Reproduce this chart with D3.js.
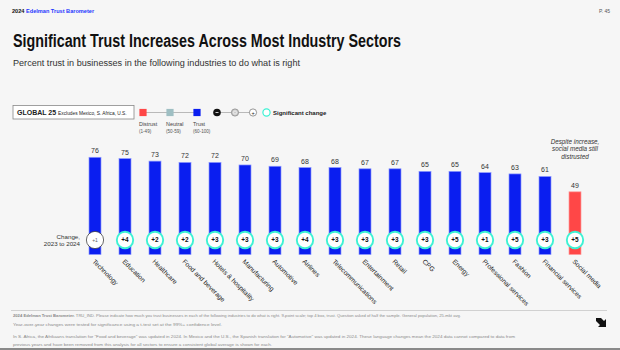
<!DOCTYPE html>
<html>
<head>
<meta charset="utf-8">
<script src="https://cdn.jsdelivr.net/npm/d3@7"></script>
<style>
  html, body { margin: 0; padding: 0; background: #f6f6f6; }
  svg { display: block; font-family: "Liberation Sans", Arial, sans-serif; }
</style>
</head>
<body>
<div id="vis"></div>
<script>
const width = 620
const height = 350

// data
const sectors = ["Technology", "Education", "Healthcare", "Food and beverage", "Hotels & hospitality",
  "Manufacturing", "Automotive", "Airlines", "Telecommunications", "Entertainment", "Retail", "CPG",
  "Energy", "Professional services", "Fashion", "Financial services", "Social media"]
const trust2024 = [76, 75, 73, 72, 72, 70, 69, 68, 68, 67, 67, 65, 65, 64, 63, 61, 49]
const change = [1, 4, 2, 2, 3, 3, 3, 4, 3, 3, 3, 3, 5, 1, 5, 3, 5]
const significant = [false, true, true, true, true, true, true, true, true, true, true, true, true, true, true, true, true]

const blue = "#0a1ef0"
const red = "#ff4747"
const teal = "#9fbfc3"
const cyan = "#3df2d4"

var data = sectors.map((s, i) => ({ sector: s, value: trust2024[i], change: change[i], sig: significant[i] }))

var svg = d3.select("#vis")
  .append("svg")
  .attr("width", width)
  .attr("height", height)

svg.append("rect").attr("width", width).attr("height", height).attr("fill", "#f6f6f6")

// header
var hdr = svg.append("text").attr("x", 12).attr("y", 13).attr("font-size", 5.6).attr("font-weight", "bold")
hdr.append("tspan").attr("fill", "#111").text("2024 ")
hdr.append("tspan").attr("fill", "#1f36ff").text("Edelman Trust Barometer")
svg.append("text").attr("x", 610).attr("y", 13).attr("text-anchor", "end")
  .attr("font-size", 5).attr("fill", "#555").text("P. 45")

svg.append("text").attr("x", 13).attr("y", 46.5)
  .attr("font-size", 17.5).attr("font-weight", "bold").attr("fill", "#111")
  .attr("textLength", 388).attr("lengthAdjust", "spacingAndGlyphs")
  .text("Significant Trust Increases Across Most Industry Sectors")

svg.append("text").attr("x", 13).attr("y", 66)
  .attr("font-size", 9.6).attr("fill", "#333")
  .attr("textLength", 287).attr("lengthAdjust", "spacingAndGlyphs")
  .text("Percent trust in businesses in the following industries to do what is right")

// legend
svg.append("rect").attr("x", 13).attr("y", 105.5).attr("width", 121).attr("height", 13.5)
  .attr("fill", "#fff").attr("stroke", "#888").attr("stroke-width", 0.8)
var g25 = svg.append("text").attr("x", 17).attr("y", 114.8).attr("fill", "#222")
g25.append("tspan").attr("font-size", 7).attr("font-weight", "bold").text("GLOBAL 25 ")
g25.append("tspan").attr("font-size", 4.8).text("Excludes Mexico, S. Africa, U.S.")

const legendItems = [
  { name: "Distrust", range: "(1-49)", color: red, x: 143 },
  { name: "Neutral", range: "(50-59)", color: teal, x: 170 },
  { name: "Trust", range: "(60-100)", color: blue, x: 197 }
]
svg.append("line").attr("x1", 143).attr("x2", 197).attr("y1", 112.5).attr("y2", 112.5)
  .attr("stroke", "#aaa").attr("stroke-width", 0.8)
legendItems.forEach(d => {
  svg.append("rect").attr("x", d.x - 3.6).attr("y", 108.9).attr("width", 7.2).attr("height", 7.2).attr("fill", d.color)
  svg.append("text").attr("x", d.x - 4).attr("y", 126).attr("font-size", 5.4).attr("fill", "#444").text(d.name)
  svg.append("text").attr("x", d.x - 4).attr("y", 132.5).attr("font-size", 4.6).attr("fill", "#555").text(d.range)
})

svg.append("line").attr("x1", 217).attr("x2", 253).attr("y1", 112.5).attr("y2", 112.5)
  .attr("stroke", "#aaa").attr("stroke-width", 0.8)
svg.append("circle").attr("cx", 217).attr("cy", 112.5).attr("r", 3.8).attr("fill", "#111")
svg.append("rect").attr("x", 215.5).attr("y", 112.1).attr("width", 3).attr("height", 0.8).attr("fill", "#fff")
svg.append("circle").attr("cx", 235).attr("cy", 112.5).attr("r", 3.6).attr("fill", "#ccc").attr("stroke", "#888").attr("stroke-width", 0.8)
svg.append("circle").attr("cx", 235).attr("cy", 112.5).attr("r", 1.6).attr("fill", "none").attr("stroke", "#fff").attr("stroke-width", 0.6)
svg.append("circle").attr("cx", 253).attr("cy", 112.5).attr("r", 3.6).attr("fill", "#fff").attr("stroke", "#555").attr("stroke-width", 0.6)
svg.append("text").attr("x", 253).attr("y", 114.5).attr("text-anchor", "middle").attr("font-size", 5.5).attr("fill", "#222").text("+")
svg.append("circle").attr("cx", 266.5).attr("cy", 112.5).attr("r", 3.6).attr("fill", "#fff").attr("stroke", cyan).attr("stroke-width", 1.2)
svg.append("text").attr("x", 273).attr("y", 114.6).attr("font-size", 6).attr("font-weight", "bold").attr("fill", "#222").text("Significant change")

// scales
var x = d3.scaleBand().domain(sectors).range([80, 590]).paddingInner(0.6).paddingOuter(0.3)
var y = d3.scaleLinear().domain([0, 100]).range([254.5, 126.6])
var bw = x.bandwidth()
var cx = d => x(d.sector) + bw / 2

svg.selectAll("rect.bar")
  .data(data)
  .join("rect")
  .attr("class", "bar")
  .attr("x", d => x(d.sector))
  .attr("y", d => y(d.value))
  .attr("width", bw)
  .attr("height", d => y(0) - y(d.value))
  .attr("fill", d => d.value < 50 ? red : d.value < 60 ? teal : blue)
  .attr("stroke", d => d.value < 50 ? "#ff9a9a" : "#8c98ff")
  .attr("stroke-width", 0.7)

svg.selectAll("text.val")
  .data(data)
  .join("text")
  .attr("class", "val")
  .attr("x", cx)
  .attr("y", d => y(d.value) - 4)
  .attr("text-anchor", "middle")
  .attr("font-size", 7)
  .attr("fill", "#333")
  .text(d => d.value)

// change circles
const cy = 240
svg.append("text").attr("x", 80).attr("y", 238.5).attr("text-anchor", "end")
  .attr("font-size", 6.2).attr("fill", "#333").text("Change,")
svg.append("text").attr("x", 80).attr("y", 246).attr("text-anchor", "end")
  .attr("font-size", 6.2).attr("fill", "#333").text("2023 to 2024")

svg.selectAll("circle.chg")
  .data(data)
  .join("circle")
  .attr("class", "chg")
  .attr("cx", cx)
  .attr("cy", cy)
  .attr("r", d => d.sig ? 8.2 : 8.6)
  .attr("fill", "#fff")
  .attr("stroke", d => d.sig ? cyan : "#444")
  .attr("stroke-width", d => d.sig ? 1.9 : 0.8)

svg.selectAll("text.chg")
  .data(data)
  .join("text")
  .attr("class", "chg")
  .attr("x", cx)
  .attr("y", cy + 2.2)
  .attr("text-anchor", "middle")
  .attr("font-size", d => d.sig ? 6.4 : 5)
  .attr("font-weight", d => d.sig ? "bold" : "normal")
  .attr("fill", d => d.sig ? "#111" : "#666")
  .text(d => "+" + d.change)

// rotated sector labels
svg.selectAll("text.cat")
  .data(data)
  .join("text")
  .attr("class", "cat")
  .attr("transform", d => `translate(${cx(d) - 3},${262}) rotate(45)`)
  .attr("font-size", 6.6)
  .attr("fill", "#222")
  .text(d => d.sector)

// annotation
const note = ["Despite increase,", "social media still", "distrusted"]
svg.selectAll("text.note")
  .data(note)
  .join("text")
  .attr("class", "note")
  .attr("x", cx(data[16]))
  .attr("y", (d, i) => 144 + i * 7.4)
  .attr("text-anchor", "middle")
  .attr("font-size", 6.3)
  .attr("font-style", "italic")
  .attr("fill", "#333")
  .text(d => d)

// footer
svg.append("line").attr("x1", 11).attr("x2", 607).attr("y1", 310.5).attr("y2", 310.5)
  .attr("stroke", "#c8c8c8").attr("stroke-width", 0.8)

var f1 = svg.append("text").attr("x", 13).attr("y", 316.5).attr("font-size", 4.3).attr("fill", "#8a8a8a")
  .attr("textLength", 448).attr("lengthAdjust", "spacingAndGlyphs")
f1.append("tspan").attr("font-weight", "bold").text("2024 Edelman Trust Barometer.")
f1.append("tspan").text(" TRU_IND. Please indicate how much you trust businesses in each of the following industries to do what is right. 9-point scale; top 4 box, trust. Question asked of half the sample. General population, 25-mkt avg.")
svg.append("text").attr("x", 13).attr("y", 325.5).attr("font-size", 4.3).attr("fill", "#8a8a8a")
  .attr("textLength", 209).attr("lengthAdjust", "spacingAndGlyphs")
  .text("Year-over-year changes were tested for significance using a t-test set at the 99%+ confidence level.")
svg.append("text").attr("x", 13).attr("y", 337.5).attr("font-size", 4.3).attr("fill", "#8a8a8a")
  .attr("textLength", 502).attr("lengthAdjust", "spacingAndGlyphs")
  .text("In S. Africa, the Afrikaans translation for \"Food and beverage\" was updated in 2024. In Mexico and the U.S., the Spanish translation for \"Automotive\" was updated in 2024. These language changes mean the 2024 data cannot compared to data from")
svg.append("text").attr("x", 13).attr("y", 346).attr("font-size", 4.3).attr("fill", "#8a8a8a")
  .attr("textLength", 259).attr("lengthAdjust", "spacingAndGlyphs")
  .text("previous years and have been removed from this analysis for all sectors to ensure a consistent global average is shown for each.")

// arrow mark
svg.append("path")
  .attr("d", "M596,318 L601,318 L604,321 L606,319 L606,327 L598,327 L600,325 L596,321 Z")
  .attr("fill", "#111")

svg.append("rect").attr("x", 0).attr("y", 348).attr("width", width).attr("height", 2).attr("fill", "#8a8a8a")
</script>
</body>
</html>
